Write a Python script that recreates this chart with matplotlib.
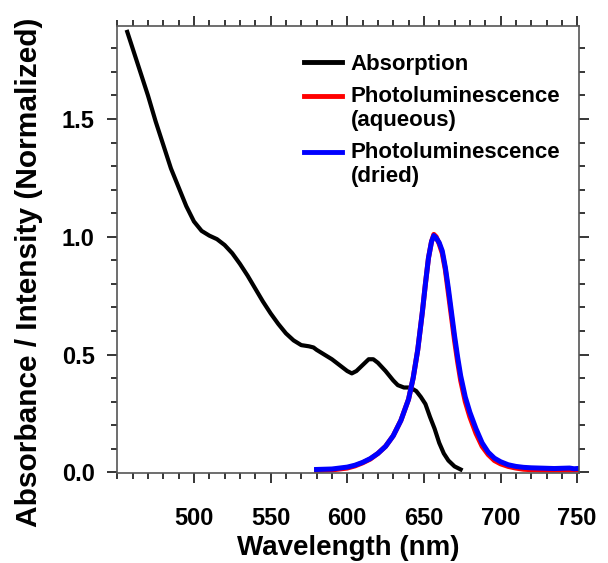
import matplotlib
matplotlib.use("Agg")
import matplotlib.pyplot as plt
from matplotlib.ticker import MultipleLocator
from matplotlib.legend_handler import HandlerLine2D

plt.rcParams['font.family'] = ['Liberation Sans', 'DejaVu Sans']
plt.rcParams['font.weight'] = 'bold'

# Absorption spectrum (wavelength nm, normalized absorbance)
abs_wl = [456.5, 460, 465, 470, 475, 480, 485, 490, 495, 500, 505, 510, 515, 520,
          525, 530, 535, 540, 545, 550, 555, 560, 565, 570, 575, 578, 580, 585,
          590, 595, 600, 603, 606, 610, 614, 617, 620, 625, 630, 633, 637, 641,
          645, 648, 651, 654, 657, 660, 663, 666, 670, 674]
abs_val = [1.87, 1.80, 1.70, 1.60, 1.49, 1.39, 1.29, 1.21, 1.13, 1.065, 1.025, 1.005,
           0.99, 0.965, 0.93, 0.885, 0.835, 0.78, 0.725, 0.675, 0.63, 0.59, 0.56,
           0.54, 0.535, 0.53, 0.52, 0.50, 0.48, 0.455, 0.43, 0.42, 0.43, 0.455,
           0.48, 0.48, 0.465, 0.43, 0.39, 0.37, 0.36, 0.36, 0.345, 0.32, 0.29,
           0.235, 0.185, 0.125, 0.08, 0.05, 0.025, 0.012]

# Photoluminescence (aqueous)
pla_wl = [580, 590, 600, 605, 610, 615, 620, 625, 630, 635, 640, 643, 646, 649, 651,
          653, 655, 656.5, 658, 660, 662, 664, 666, 668, 670, 672, 674, 677, 680,
          684, 688, 692, 696, 700, 705, 710, 715, 720, 730, 740, 750]
pla_val = [0.008, 0.010, 0.018, 0.027, 0.040, 0.056, 0.080, 0.110, 0.155, 0.220,
           0.310, 0.400, 0.520, 0.680, 0.800, 0.910, 0.980, 1.010, 1.000, 0.970,
           0.930, 0.860, 0.760, 0.660, 0.560, 0.470, 0.390, 0.300, 0.235, 0.165,
           0.110, 0.075, 0.050, 0.036, 0.025, 0.018, 0.013, 0.011, 0.009, 0.009,
           0.010]

# Photoluminescence (dried)
pld_wl = [580, 590, 600, 605, 610, 615, 620, 625, 630, 635, 640, 643, 646, 649, 651,
          653, 655, 656.5, 658, 660, 662, 664, 666, 668, 670, 672, 674, 677, 680,
          684, 688, 692, 696, 700, 705, 710, 715, 720, 725, 730, 735, 740, 745,
          748, 750]
pld_val = [0.012, 0.014, 0.022, 0.030, 0.042, 0.058, 0.080, 0.110, 0.155, 0.220,
           0.310, 0.400, 0.520, 0.680, 0.800, 0.910, 0.980, 1.005, 0.995, 0.975,
           0.940, 0.870, 0.780, 0.680, 0.580, 0.490, 0.410, 0.320, 0.255, 0.185,
           0.125, 0.085, 0.060, 0.045, 0.032, 0.025, 0.021, 0.019, 0.018, 0.017,
           0.016, 0.017, 0.018, 0.015, 0.016]

labels = ["Absorption", "Photoluminescence\n(aqueous)", "Photoluminescence\n(dried)"]


class TopLineHandler(HandlerLine2D):
    """Place the legend handle next to the first line of a two-line label."""
    def __init__(self, shift=0.0, **kw):
        super().__init__(**kw)
        self.shift = shift

    def create_artists(self, legend, orig_handle, xdescent, ydescent, width,
                       height, fontsize, trans):
        arts = super().create_artists(legend, orig_handle, xdescent, ydescent,
                                      width, height, fontsize, trans)
        for a in arts:
            a.set_ydata([y + self.shift for y in a.get_ydata()])
        return arts


fig = plt.figure(figsize=(6.08, 5.63), dpi=100)
ax = fig.add_axes([117/608, 90/563, 462/608, 447/563])

l_abs, = ax.plot(abs_wl, abs_val, color='black', lw=3.0, label=labels[0])
l_pla, = ax.plot(pla_wl, pla_val, color='#ff0000', lw=3.6, label=labels[1])
l_pld, = ax.plot(pld_wl, pld_val, color='#0000ff', lw=3.6, label=labels[2])

ax.set_xlim(449.8, 751.2)
ax.set_ylim(-0.003, 1.895)
ax.set_xticks([500, 550, 600, 650, 700, 750])
ax.xaxis.set_minor_locator(MultipleLocator(10))
ax.yaxis.set_major_locator(MultipleLocator(0.5))
ax.yaxis.set_minor_locator(MultipleLocator(0.1))

for s in ax.spines.values():
    s.set_color('#555555')
    s.set_linewidth(1.2)

ax.tick_params(which='both', direction='out', top=True, right=True,
               width=1.1, color='black')
ax.tick_params(which='major', length=7.5)
ax.tick_params(which='minor', length=4)
ax.tick_params(axis='x', which='major', labelsize=17, pad=17)
ax.tick_params(axis='y', which='major', labelsize=17, pad=8.5)
for lab in ax.get_xticklabels() + ax.get_yticklabels():
    lab.set_fontweight('bold')

ax.set_xlabel("Wavelength (nm)", fontsize=20, fontweight='bold')
ax.set_ylabel("Absorbance / Intensity (Normalized)", fontsize=21.5, fontweight='bold')
ax.xaxis.set_label_coords(0.5, -0.138)
ax.yaxis.set_label_coords(-0.16, 0.45)

shift = 9.0
leg = ax.legend(handles=[l_abs, l_pla, l_pld], loc='upper left',
                bbox_to_anchor=(0.405, 0.938), frameon=False,
                prop={'size': 16, 'weight': 'bold'}, handlelength=1.7,
                handletextpad=0.4, labelspacing=0.5, borderpad=0, borderaxespad=0,
                handler_map={l_pla: TopLineHandler(shift=shift),
                             l_pld: TopLineHandler(shift=shift)})
for line in leg.get_lines():
    line.set_linewidth(3.5)

fig.savefig("out.png", dpi=100)
